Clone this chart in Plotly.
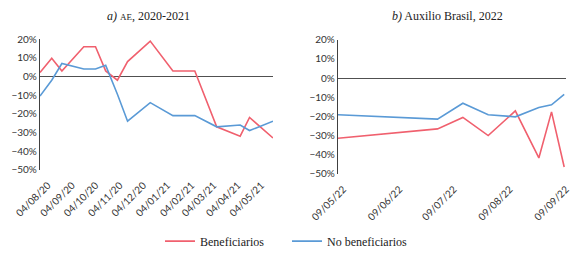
import plotly.graph_objects as go

# ---- Panel a) AE, 2020-2021 ----
dates_a = ["2020-07-25", "2020-08-09", "2020-08-22", "2020-09-19", "2020-10-04",
           "2020-10-17", "2020-11-01", "2020-11-14", "2020-12-13", "2021-01-11",
           "2021-02-08", "2021-03-08", "2021-04-07", "2021-04-19", "2021-05-19"]
benef_a = [2.2, 9.8, 3, 16, 16, 3, -2, 8, 19, 3, 3, -27, -32, -22, -33]
nobenef_a = [-10.5, -2, 7, 4, 4, 6, -9.5, -24, -14, -21, -21, -27, -26, -29, -24]

# ---- Panel b) Auxilio Brasil, 2022 ----
dates_b = ["2022-05-06", "2022-06-30", "2022-07-14", "2022-07-28", "2022-08-12",
           "2022-08-25", "2022-09-01", "2022-09-08"]
benef_b = [-31.5, -26.6, -20.6, -30.1, -17.2, -41.8, -17.7, -46.5]
nobenef_b = [-19.2, -21.5, -13.2, -19.2, -20.3, -15.4, -14.0, -8.5]

series_names = ["Beneficiarios", "No beneficiarios"]
titles = ["<i>a)</i> <span style='font-size:9px'>AE</span>, 2020-2021",
          "<i>b)</i> Auxilio Brasil, 2022"]

RED = "#F0606E"
BLUE = "#5A9AD6"

# page is 582x256; the html body has an 8px margin, so the figure is 574x248
OFF = 8
W, H = 582 - OFF, 256 - OFF


def fx(px):
    return (px - OFF) / W


def fy(py):
    return 1 - (py - OFF) / H


fig = go.Figure()
fig.add_trace(go.Scatter(x=dates_a, y=benef_a, mode="lines", name=series_names[0],
                         line=dict(color=RED, width=1.6), xaxis="x", yaxis="y"))
fig.add_trace(go.Scatter(x=dates_a, y=nobenef_a, mode="lines", name=series_names[1],
                         line=dict(color=BLUE, width=1.6), xaxis="x", yaxis="y"))
fig.add_trace(go.Scatter(x=dates_b, y=benef_b, mode="lines", name=series_names[0],
                         line=dict(color=RED, width=1.6), xaxis="x2", yaxis="y2",
                         showlegend=False))
fig.add_trace(go.Scatter(x=dates_b, y=nobenef_b, mode="lines", name=series_names[1],
                         line=dict(color=BLUE, width=1.6), xaxis="x2", yaxis="y2",
                         showlegend=False))

tickfont = dict(family="Lato, Open Sans, sans-serif", size=10, color="#333333")
serif = "Liberation Serif"

common_x = dict(type="date", tickformat="%d/%m/%y", dtick="M1", tickangle=-45,
                showgrid=False, showline=False, ticks="", zeroline=False,
                tickfont=tickfont, automargin=False, fixedrange=True,
                ticklabelstandoff=7)
common_y = dict(range=[-50, 20], dtick=10, ticksuffix="%", showgrid=False,
                showline=True, linecolor="#404040", linewidth=1.2, ticks="",
                zeroline=True, zerolinecolor="#505050", zerolinewidth=1.2,
                tickfont=tickfont, automargin=False, fixedrange=True)

fig.update_layout(
    width=W, height=H,
    margin=dict(l=0, r=0, t=0, b=0),
    paper_bgcolor="white", plot_bgcolor="white",
    xaxis=dict(domain=[fx(40), fx(273)], range=["2020-07-25", "2021-05-19"],
               tick0="2020-08-04", anchor="y", **common_x),
    yaxis=dict(domain=[fy(171), fy(39.5)], anchor="x", **common_y),
    xaxis2=dict(domain=[fx(338), fx(566)], range=["2022-05-06", "2022-09-09"],
                tick0="2022-05-09", anchor="y2", **common_x),
    yaxis2=dict(domain=[fy(175), fy(40)], anchor="x2", **common_y),
    legend=dict(orientation="h", x=fx(160), xanchor="left", y=fy(243),
                yanchor="middle", font=dict(family=serif, size=12, color="#222222"),
                itemwidth=30, entrywidth=82, entrywidthmode="pixels"),
    showlegend=True,
)

fig.add_annotation(text=titles[0], x=fx(148), y=fy(16), xref="paper", yref="paper",
                   xanchor="center", yanchor="middle", showarrow=False,
                   font=dict(family=serif, size=12, color="#222222"))
fig.add_annotation(text=titles[1], x=fx(447), y=fy(16), xref="paper", yref="paper",
                   xanchor="center", yanchor="middle", showarrow=False,
                   font=dict(family=serif, size=12, color="#222222"))

fig.write_html("out.html")
